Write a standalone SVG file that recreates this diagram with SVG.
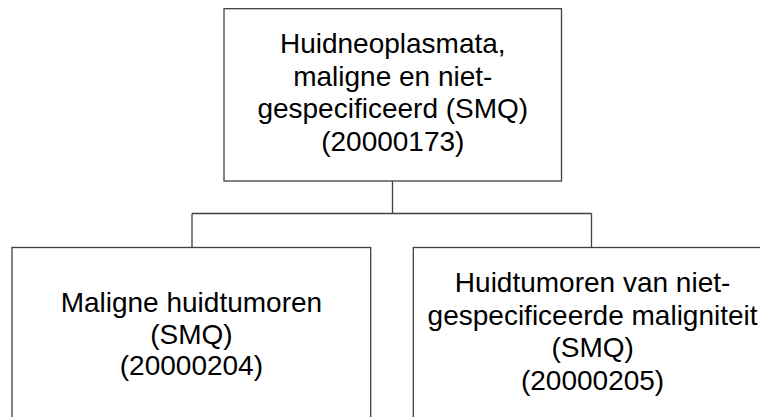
<svg xmlns="http://www.w3.org/2000/svg" width="760" height="417" viewBox="0 0 760 417">
<style>
.box{fill:#fff;stroke:#404040;stroke-width:1.3}
.conn{fill:none;stroke:#404040;stroke-width:1.3}
text{font-family:"Liberation Sans",Arial,sans-serif;font-size:28px;fill:#000;text-anchor:middle}
</style>
<rect width="760" height="417" fill="#fff"/>
<g id="connectors">
<path class="conn" d="M392.5,181 V213.5 M192,213.5 H591.5 M192,213.5 V247.5 M591.5,213.5 V247.5"/>
</g>
<g id="node-top">
<rect class="box" x="224" y="8.7" width="337.5" height="172.3"/>
<text x="392.8" y="52.5">Huidneoplasmata,</text>
<text x="392.8" y="85.5">maligne en niet-</text>
<text x="392.8" y="118">gespecificeerd (SMQ)</text>
<text x="392.8" y="151">(20000173)</text>
</g>
<g id="node-left">
<rect class="box" x="12" y="247.5" width="358.7" height="200"/>
<text x="191.4" y="312">Maligne huidtumoren</text>
<text x="191.4" y="343.5">(SMQ)</text>
<text x="191.4" y="375">(20000204)</text>
</g>
<g id="node-right">
<rect class="box" x="413.3" y="247.5" width="358.7" height="200"/>
<text x="592.6" y="292">Huidtumoren van niet-</text>
<text x="592.6" y="324.5">gespecificeerde maligniteit</text>
<text x="592.6" y="357">(SMQ)</text>
<text x="592.6" y="389.5">(20000205)</text>
</g>
</svg>
